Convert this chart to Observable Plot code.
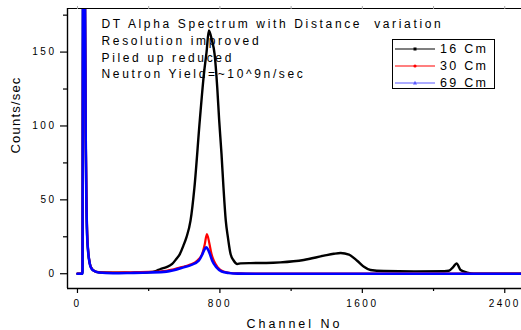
<!DOCTYPE html>
<html><head><meta charset="utf-8">
<script src="https://cdn.jsdelivr.net/npm/d3@7"></script>
<script src="https://cdn.jsdelivr.net/npm/@observablehq/plot@0.6"></script>
<style>
body{margin:0;background:#fff;}
#wrap{position:relative;width:521px;height:330px;font-family:"Liberation Sans",Arial,sans-serif;}
#wrap svg{display:block;}
#legend{position:absolute;left:392px;top:39px;width:103px;height:50px;border:1.3px solid #000;background:#fff;box-sizing:border-box;}
.lrow{position:absolute;left:0;height:16px;width:100px;}
.lrow svg{position:absolute;left:1px;top:0;}
.lrow span{position:absolute;left:47px;top:0;line-height:16px;font-size:12.5px;letter-spacing:2.3px;color:#000;}
</style></head><body><div id="wrap"><div id="legend"></div></div>
<script>
// ---- data ----
const seriesNames = ["16 Cm", "30 Cm", "69 Cm"];
const seriesColors = ["#000000", "#ff0000", "#0000ff"];
const legendColors = ["#000000", "#ff0000", "#5a5aff"];

const ch16 = [0, 28, 31, 42, 46, 50, 54, 60, 69, 80, 92, 120, 200, 300, 400, 440, 466, 500, 532, 555, 575, 595, 612, 635, 657, 687, 710, 725, 738, 755, 770, 785, 796, 809, 820, 833, 845, 860, 878, 897, 916, 972, 1060, 1140, 1271, 1384, 1440, 1478, 1525, 1571, 1609, 1646, 1721, 1890, 2060, 2086, 2110, 2129, 2152, 2189, 2226, 2494];
const v16 = [0, 0, 190, 190, 95, 50, 27, 15, 7, 3.5, 2, 1, 0.7, 0.6, 1, 1.8, 3.2, 4.5, 6.6, 10, 13.3, 19, 24.6, 35.9, 58.5, 103.7, 135, 150, 164.6, 158, 148.8, 126.2, 103.7, 81.1, 58.5, 35.9, 24.6, 13.3, 8.8, 6.6, 7, 7.2, 7.3, 7.7, 9.3, 12.2, 13.5, 14, 12.9, 8.8, 4.7, 2.5, 1.8, 1.6, 1.7, 2.0, 4.5, 7, 2.5, 0.8, 0, 0];

const ch30 = [0, 28, 31, 42, 46, 50, 54, 60, 69, 80, 92, 120, 200, 300, 400, 500, 579, 630, 672, 700, 715, 727, 740, 753, 766, 788, 820, 860, 920, 1000, 2494];
const v30 = [0, 0, 190, 190, 100, 55, 30, 16, 7, 3.5, 2, 1, 0.8, 1, 1.2, 2, 4.3, 6, 8.8, 13.3, 20, 26.9, 21, 13.3, 8.8, 4.3, 1.5, 0.5, 0.2, 0, 0];

const ch69 = [0, 28, 31, 42, 46, 50, 54, 60, 69, 80, 92, 120, 200, 300, 400, 500, 597, 640, 681, 702, 714, 723, 735, 744, 757, 781, 810, 850, 900, 1000, 2494];
const v69 = [0, 0, 190, 190, 95, 50, 27, 15, 6.8, 3.2, 2, 0.8, 0.3, 0.5, 0.8, 1.4, 4.3, 6, 8.8, 13.3, 16.5, 17.8, 16, 13.3, 8.8, 4.3, 1.5, 0.5, 0.1, 0, 0];

const xDomain = [-56, 2494];
const yDomain = [-10, 179.5];
const xMajor = [0, 800, 1600, 2400];
const xMinor = [400, 1200, 2000];
const xTop = [0, 400, 800, 1200, 1600, 2000, 2400];
const yMajor = [0, 50, 100, 150];
const yMinor = [25, 75, 125, 175];
const annotationLines = ["DT Alpha Spectrum with Distance  variation", "Resolution improved", "Piled up reduced", "Neutron Yield=~10^9n/sec"];
const xTitle = "Channel No";
const yTitle = "Counts/sec";

// ---- build ----
const chans = [ch16, ch30, ch69];
const vals = [v16, v30, v69];
const rows = chans.map((c, k) => c.map((x, i) => ({ch: x, v: vals[k][i]})));
const widths = [2.4, 2.2, 2.6];
const fmt = d => String(d);

const font = '"Liberation Sans", Arial, sans-serif';
const plot = Plot.plot({
  width: 521, height: 330,
  marginLeft: 67, marginRight: 0, marginTop: 8, marginBottom: 42,
  x: {domain: xDomain},
  y: {domain: yDomain},
  style: {fontFamily: font, background: "white", color: "#000"},
  marks: [
    ...rows.map((r, k) => Plot.line(r, {x: "ch", y: "v", stroke: seriesColors[k], strokeWidth: widths[k], curve: "monotone-x", clip: true})),
    Plot.ruleX([xDomain[0]], {stroke: "#000", strokeWidth: 1.4}),
    Plot.ruleY([yDomain[0]], {stroke: "#000", strokeWidth: 1.4}),
    Plot.ruleY([yDomain[1]], {stroke: "#000", strokeWidth: 1.2}),
    Plot.axisY({ticks: yMajor, tickSize: 7, tickPadding: 4, fontSize: 10, label: null, strokeWidth: 1.2, tickFormat: fmt}),
    Plot.axisY({ticks: yMinor, tickSize: 4, text: null, label: null, strokeWidth: 1.2}),
    Plot.axisX({ticks: xMajor, tickSize: 5, tickPadding: 6, fontSize: 10, label: null, strokeWidth: 1.2, tickFormat: fmt}),
    Plot.axisX({ticks: xMinor, tickSize: 3, text: null, label: null, strokeWidth: 1.2}),
    Plot.axisX({anchor: "top", ticks: xTop, tickSize: 3, text: null, label: null, stroke: "#aaa"}),
    Plot.text([annotationLines.join("\n")], {frameAnchor: "top-left", dx: 34, dy: 8, fontSize: 12, lineHeight: 1.39, textAnchor: "start"}),
    Plot.text([xTitle], {frameAnchor: "bottom", lineAnchor: "middle", dy: 35, fontSize: 12.5}),
    Plot.text([yTitle], {frameAnchor: "left", lineAnchor: "middle", dx: -52, dy: 5, rotate: -90, fontSize: 13})
  ]
});
const wrap = document.getElementById("wrap");
wrap.insertBefore(plot, wrap.firstChild);

// letter spacing by text role
d3.select(plot).selectAll("text").each(function() {
  const t = this.textContent;
  const el = d3.select(this);
  if (/^\d+$/.test(t)) el.style("letter-spacing", "2.5px");
  else if (t === xTitle) el.style("letter-spacing", "3px");
  else if (t === yTitle) el.style("letter-spacing", "1.2px");
  else { el.style("letter-spacing", "2.65px"); el.style("white-space", "pre"); el.selectAll("tspan").style("white-space", "pre"); }
});

// legend
const legend = document.getElementById("legend");
const markerShapes = ["square", "dot", "triangle"];
seriesNames.forEach((name, k) => {
  const row = document.createElement("div");
  row.className = "lrow";
  row.style.top = (1.3 + k * 16.9) + "px";
  const c = legendColors[k];
  let marker;
  if (markerShapes[k] === "square") marker = `<rect x="19.5" y="6.5" width="3" height="3" fill="${c}"/>`;
  else if (markerShapes[k] === "dot") marker = `<circle cx="21" cy="8" r="1.6" fill="${c}"/>`;
  else marker = `<path d="M21,5.8 L23,9.6 L19,9.6 Z" fill="${c}"/>`;
  row.innerHTML = `<svg width="44" height="16"><line x1="1" x2="41" y1="8" y2="8" stroke="${c}" stroke-width="1.1"/>${marker}</svg><span>${name}</span>`;
  legend.appendChild(row);
});
</script>
</body></html>
